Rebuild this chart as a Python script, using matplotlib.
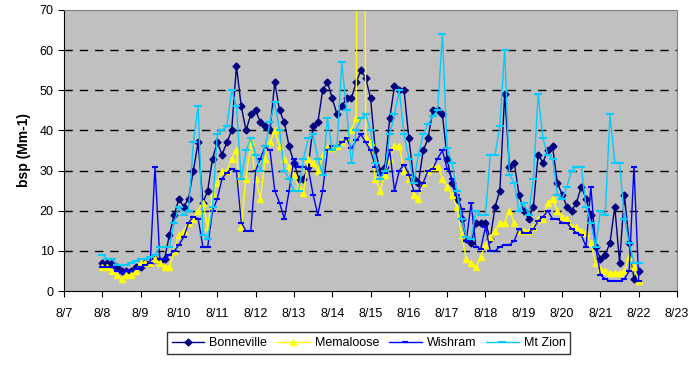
import numpy as np
import matplotlib.pyplot as plt

plt.rcParams['font.family'] = ['Liberation Sans', 'DejaVu Sans']

# 3-hourly readings, 8/8 00:00 through 8/22 00:00
hours = np.arange(0, 14 * 24 + 1, 3)
days = 8 + hours / 24.0

bonneville = [
    7, 7, 7, 6, 5, 5, 5, 6,
    6, 7, 7, 8, 7.5, 8, 14, 19,
    23, 21, 23, 30, 37, 22, 25, 33,
    37, 34, 37, 40, 56, 46, 40, 44,
    45, 42, 41, 40, 52, 45, 42, 36,
    32, 28, 28, 31, 41, 42, 50, 52,
    48, 44, 46, 48, 48, 52, 55, 53,
    48, 35, 30, 31, 43, 51, 50, 50,
    38, 28, 27, 35, 38, 45, 45, 44,
    33, 27, 23, 18, 13, 12, 17, 17,
    17, 13, 21, 25, 49, 31, 32, 24,
    20, 18, 21, 34, 32, 35, 36, 27,
    24, 21, 20, 22, 26, 23, 19, 11,
    8, 9, 12, 21, 7, 24, 12, 3,
    5,
]

# the 8/14 evening reading runs off the top of the scale
memaloose = [
    6, 6, 5, 4, 3, 4, 4, 5,
    7, 7, 7, 8, 7, 6, 6, 10,
    14, 15, 17, 18, 20, 22, 16, 24,
    27, 30, 30, 33, 35, 16, 28, 37,
    28, 23, 33, 37, 40, 36, 33, 31,
    29, 26, 24.5, 33, 32, 30, 34, 35.5,
    35.5, 36, 37, 38, 40, 43, 300, 38,
    37, 28, 25, 29, 33, 36, 36, 30,
    28, 24, 23, 27, 30, 31, 31, 28,
    26, 24, 21, 14, 8, 7, 6, 8.5,
    11.5, 13.5, 15, 17, 17, 20, 17, 15,
    15, 15, 16, 18, 18, 22, 23, 20,
    18.5, 18, 16, 16, 15, 14.5, 12, 7,
    5.5, 5, 4.5, 4.5, 4.5, 5, 8.5, 6,
    2.5,
]

wishram = [
    6, 6, 6, 5, 4.5, 5, 5, 5.5,
    6, 6.5, 7, 31, 8, 8, 9, 10,
    11.5, 13.5, 17, 18.5, 18, 11, 11, 20,
    23, 28, 29.5, 30.5, 30, 17, 15, 15,
    30, 33, 36, 35, 25, 22, 18, 25,
    33, 31, 31, 30.5, 24, 19, 25, 35,
    36, 36, 37, 38, 35.5, 37.5, 39, 37,
    35, 31, 29, 29.5, 35, 25, 30, 31.5,
    29, 25, 25, 27, 30, 30.5, 33, 35,
    30.5, 28, 24, 20.5, 12.5, 22, 11, 10.5,
    16, 10, 10, 11, 11.5, 11.5, 12.5, 15.5,
    14.5, 14.5, 15.5, 17.5, 18.5, 20, 18, 18,
    17, 17, 15.5, 14.5, 14, 11, 26, 11,
    4, 3, 2.5, 2.5, 2.5, 3, 5, 31,
    2.5,
]

mt_zion = [
    9, 8, 8, 6.5, 6.5, 6.5, 7, 7.5,
    8, 8, 8.5, 9, 11, 11, 11, 17,
    21, 19, 20, 37, 46, 14, 13, 21,
    39, 40, 41, 50, 46, 28, 35, 38,
    34, 30, 36, 42, 47, 40, 30, 28,
    25, 25, 33, 38, 39, 33, 29, 43,
    35, 36, 57, 45, 32, 40, 43, 44,
    40, 32, 28, 30, 39, 44, 50, 39,
    33, 27, 34, 39, 41.5, 43.5, 45, 64,
    35.5, 32, 25, 18, 13.5, 13, 20, 19,
    19, 34, 34, 41, 60, 29, 27, 20,
    22, 19, 28, 49, 38, 34, 33, 24,
    23, 26, 30, 31, 31, 21, 17, 11,
    20, 19, 44, 32, 32, 18, 12, 7,
    7,
]

tick_days = list(range(7, 24))
tick_labels = [f"8/{d}" for d in tick_days]

fig = plt.figure(figsize=(6.93, 3.65), dpi=100)
ax = fig.add_axes([0.0924, 0.2027, 0.8846, 0.77])
ax.set_facecolor('#C0C0C0')

ax.plot(days, bonneville, color='#000080', lw=1, marker='D', ms=3.5,
        label='Bonneville')
ax.plot(days, memaloose, color='#FFFF00', lw=1, marker='^', ms=5,
        label='Memaloose')
ax.plot(days, wishram, color='#0000FF', lw=1, marker='_', ms=4, mew=1.5,
        label='Wishram')
ax.plot(days, mt_zion, color='#00CCFF', lw=1, marker='_', ms=6, mew=1.5,
        label='Mt Zion')

ax.set_xlim(7, 23)
ax.set_ylim(0, 70)
ax.set_xticks(tick_days)
ax.set_xticklabels(tick_labels)
ax.set_yticks(range(0, 71, 10))
ax.tick_params(axis='both', direction='out', length=4, labelsize=9,
               color='black')
ax.tick_params(axis='x', pad=8)

for y in range(10, 70, 10):
    ax.axhline(y, color='black', lw=1, ls=(0, (6, 5)), zorder=0.5)

for side in ('top', 'right'):
    ax.spines[side].set_color('#808080')
for side in ('left', 'bottom'):
    ax.spines[side].set_color('black')

ax.set_ylabel('bsp (Mm-1)', fontsize=10, fontweight='bold', labelpad=6)

leg = fig.legend(loc='center', bbox_to_anchor=(0.532, 0.06), ncol=4,
                 fontsize=9, frameon=True, fancybox=False, edgecolor='black',
                 handlelength=2.6, columnspacing=0.8, handletextpad=0.4,
                 borderpad=0.4)
leg.get_frame().set_linewidth(1)

fig.savefig('out.png', dpi=100)
